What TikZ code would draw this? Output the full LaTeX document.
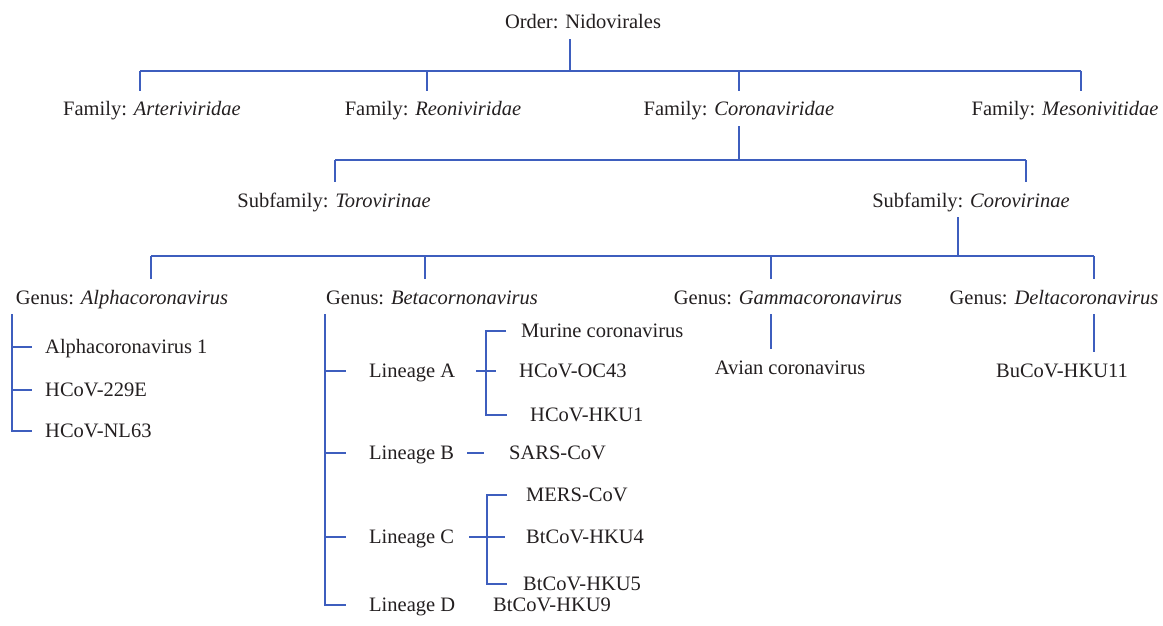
\documentclass[tikz,border=0pt]{standalone}
\usepackage{fontspec}
\setmainfont{Liberation Serif}
\definecolor{treeblue}{RGB}{62,94,190}
\definecolor{treetext}{RGB}{35,31,32}

\begin{document}
\begin{tikzpicture}[x=1pt,y=-1pt,
  every node/.style={font=\fontsize{20.5}{24}\selectfont,text=treetext},
  rank/.style={anchor=base,inner xsep=0pt,inner ysep=10pt,text height=15pt,text depth=0pt},
  leaf/.style={anchor=base west,inner sep=0pt,text height=15pt,text depth=3pt},
  link/.style={draw=treeblue,line width=1.2pt},
  ]
\useasboundingbox (0,0) rectangle (1163,626);

% order and families
\node[rank] (order) at (583,29) {Order: Nidovirales};
\node[rank] (fam1) at (152,116) {Family: \textit{Arteriviridae}};
\node[rank] (fam2) at (433,116) {Family: \textit{Reoniviridae}};
\node[rank] (fam3) at (739,116) {Family: \textit{Coronaviridae}};
\node[rank] (fam4) at (1065,116) {Family: \textit{Mesonivitidae}};

\coordinate (j0) at (570,71);
\coordinate (d1) at (140,71);
\coordinate (d2) at (427,71);
\coordinate (d3) at (739,71);
\coordinate (d4) at (1081,71);
\draw[link] (order.south -| j0) -- (j0);
\draw[link] (d1) -- (d4);
\foreach \i in {1,...,4}
  \draw[link] (d\i) -- (d\i |- fam\i.north);

% subfamilies
\node[rank] (sub1) at (334,207) {Subfamily: \textit{Torovirinae}};
\node[rank] (sub2) at (971,207) {Subfamily: \textit{Corovirinae}};

\coordinate (e1) at (335,160);
\coordinate (e2) at (1026,160);
\draw[link] (fam3.south) -- (fam3.south |- e1);
\draw[link] (e1) -- (e2);
\draw[link] (e1) -- (e1 |- sub1.north);
\draw[link] (e2) -- (e2 |- sub2.north);

% genera
\node[rank] (gen1) at (122,304) {Genus: \textit{Alphacoronavirus}};
\node[rank] (gen2) at (432,304) {Genus: \textit{Betacornonavirus}};
\node[rank] (gen3) at (788,304) {Genus: \textit{Gammacoronavirus}};
\node[rank] (gen4) at (1054,304) {Genus: \textit{Deltacoronavirus}};

\coordinate (j2) at (958,256);
\coordinate (g1) at (151,256);
\coordinate (g2) at (425,256);
\coordinate (g3) at (771,256);
\coordinate (g4) at (1094,256);
\draw[link] (sub2.south -| j2) -- (j2);
\draw[link] (g1) -- (g4);
\foreach \i in {1,...,4}
  \draw[link] (g\i) -- (g\i |- gen\i.north);

% alphacoronavirus
\node[leaf] (alpha1) at (45,353) {Alphacoronavirus 1};
\node[leaf] (hcov229) at (45,396) {HCoV-229E};
\node[leaf] (nl63) at (45,437) {HCoV-NL63};

\coordinate (sa) at (12,314);
\draw[link] (sa) |- ([xshift=-13pt]nl63.west);
\draw[link] (sa |- alpha1.west) -- ([xshift=-13pt]alpha1.west);
\draw[link] (sa |- hcov229.west) -- ([xshift=-13pt]hcov229.west);

% betacoronavirus
\node[leaf] (linA) at (369,377) {Lineage A};
\node[leaf] (linB) at (369,459) {Lineage B};
\node[leaf] (linC) at (369,543) {Lineage C};
\node[leaf] (linD) at (369,611) {Lineage D};

\coordinate (sb) at (325,314);
\draw[link] (sb) |- ([xshift=-23pt]linD.west);
\foreach \l in {linA,linB,linC}
  \draw[link] (sb |- \l.west) -- ([xshift=-23pt]\l.west);

% lineage A
\node[leaf] (murine) at (521,337) {Murine coronavirus};
\node[leaf] (oc43) at (519,377) {HCoV-OC43};
\node[leaf] (hku1) at (530,421) {HCoV-HKU1};

\draw[link] ([xshift=-15pt]murine.west) -| ([xshift=-33pt]oc43.west) |- ([xshift=-23pt]hku1.west);
\draw[link] ([xshift=21pt]linA.east) -- ([xshift=-23pt]oc43.west);

% lineage B
\node[leaf] (sars) at (509,459) {SARS-CoV};
\draw[link] ([xshift=13pt]linB.east) -- ([xshift=-25pt]sars.west);

% lineage C
\node[leaf] (mers) at (526,501) {MERS-CoV};
\node[leaf] (hku4) at (526,543) {BtCoV-HKU4};
\node[leaf] (hku5) at (523,590) {BtCoV-HKU5};

\draw[link] ([xshift=-19pt]mers.west) -| ([xshift=-39pt]hku4.west) |- ([xshift=-16pt]hku5.west);
\draw[link] ([xshift=15pt]linC.east) -- ([xshift=-21pt]hku4.west);

% lineage D
\node[leaf] (hku9) at (493,611) {BtCoV-HKU9};

% gamma and delta
\node[rank] (avian) at (790,374) {Avian coronavirus};
\node[rank] (bucov) at (1062,377) {BuCoV-HKU11};
\draw[link] (g3 |- gen3.south) -- (g3 |- avian.north);
\draw[link] (g4 |- gen4.south) -- (g4 |- bucov.north);

\end{tikzpicture}
\end{document}
